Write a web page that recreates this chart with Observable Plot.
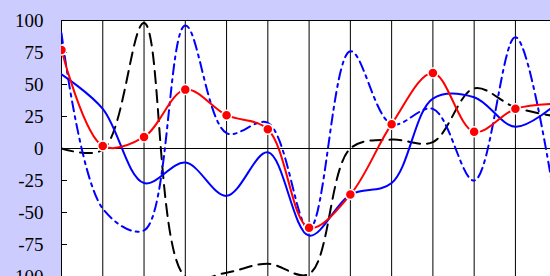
<!DOCTYPE html>
<html>
<head>
<meta charset="utf-8">
<script src="https://cdn.jsdelivr.net/npm/d3@7"></script>
<script src="https://cdn.jsdelivr.net/npm/@observablehq/plot@0.6"></script>
<style>
  html, body { margin: 0; padding: 0; background: #ccccff; }
  #chart svg { display: block; }
</style>
</head>
<body>
<div id="chart"></div>
<script>
// x positions (one per vertical gridline)
const xs = [0, 1, 2, 3, 4, 5, 6, 7, 8, 9, 10, 11, 12];
// series values
const redValues     = [77, 2, 9, 46, 26, 15, -62, -36, 19, 59, 13, 31, 35];
const blueValues    = [58, 31, -27, -11, -37, -3, -68, -36, -27, 39, 40, 17, 35];
const dashDotValues = [90, -47, -64, 96, 12, 20, -63, 76, 19, 31, -25, 87, -50];
const blackValues   = [0, -1, 98, -100, -97, -90, -98, 0, 7, 5, 47, 32, 25];
const yTicks = [100, 75, 50, 25, 0, -25, -50, -75, -100];

const toRows = vals => xs.map((x, i) => ({x, y: vals[i]}));
const red = toRows(redValues);
const blue = toRows(blueValues);
const dashDot = toRows(dashDotValues);
const black = toRows(blackValues);

const serif = "'Liberation Serif', 'Times New Roman', serif";

const chart = Plot.plot({
  width: 550,
  height: 276,
  marginLeft: 61,
  marginTop: 20,
  marginRight: 0,
  marginBottom: 0,
  style: {background: "#ccccff", color: "black", fontFamily: serif, fontSize: "19px"},
  x: {domain: [0, 11.85], axis: null},
  y: {domain: [-100, 100], label: null},
  marks: [
    Plot.frame({fill: "white", stroke: null}),
    Plot.ruleX(xs, {stroke: "black", strokeWidth: 1}),
    Plot.ruleY([0, 100], {stroke: "black", strokeWidth: 1}),
    Plot.axisY(yTicks, {tickSize: 0, tickPadding: 18, label: null, fill: "black",
      fontFamily: serif, fontSize: 19, fontVariant: "normal", tickFormat: d => String(d)}),
    Plot.axisY(yTicks, {tickSize: -6, tickFormat: () => "", label: null, stroke: "black"}),
    Plot.line(black, {x: "x", y: "y", curve: "catmull-rom", stroke: "black", strokeWidth: 2, strokeDasharray: "12,7", clip: true}),
    Plot.line(dashDot, {x: "x", y: "y", curve: "catmull-rom", stroke: "#0000ff", strokeWidth: 2, strokeDasharray: "10,5,3,5", clip: true}),
    Plot.line(blue, {x: "x", y: "y", curve: "catmull-rom", stroke: "#0000ff", strokeWidth: 2, clip: true}),
    Plot.line(red, {x: "x", y: "y", curve: "catmull-rom", stroke: "#ff0000", strokeWidth: 2, clip: true}),
    Plot.dot(red, {x: "x", y: "y", r: 5, fill: "#ff0000", stroke: "white", strokeWidth: 1.5, clip: true})
  ]
});
d3.select(chart).selectAll("text")
  .style("font-family", serif)
  .style("font-size", "19px")
  .style("font-variant", "normal");
document.getElementById("chart").appendChild(chart);
</script>
</body>
</html>
